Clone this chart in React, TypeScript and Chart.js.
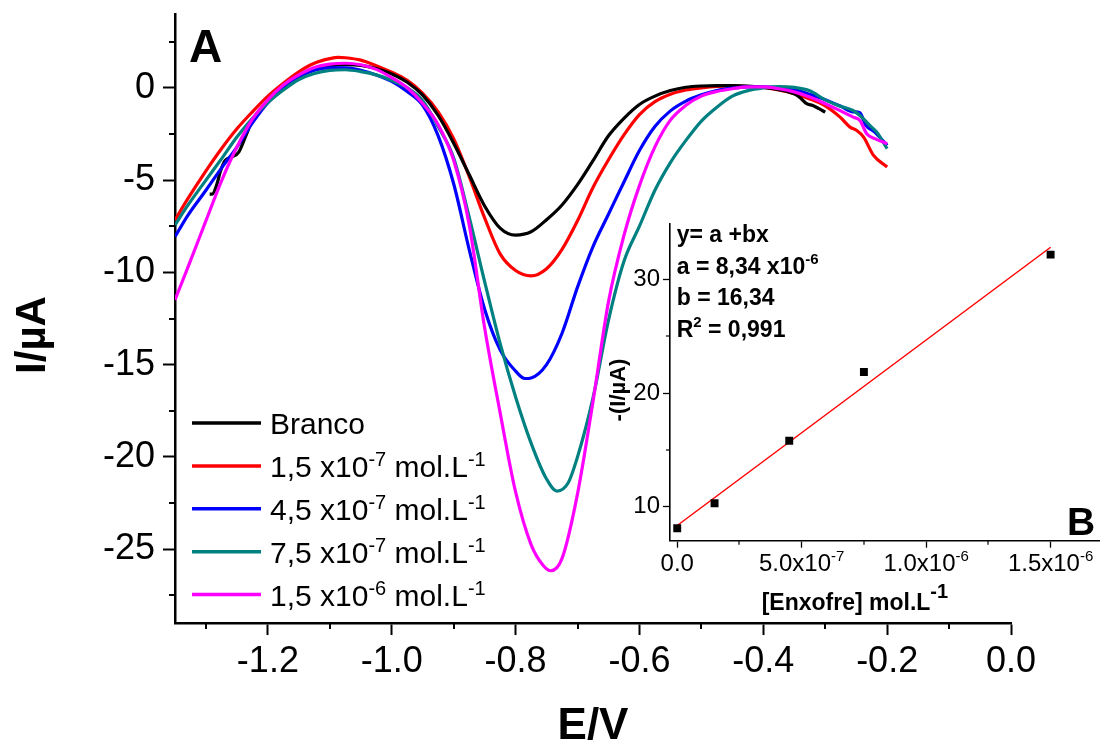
import React, { useEffect, useRef } from "react";
import { Chart, registerables } from "chart.js";
Chart.register(...registerables);

const FONT = '"Liberation Sans", Arial, sans-serif';

// ---------- Panel A : voltammograms ----------
const SERIES_COLORS = ["#000000", "#ff0000", "#0000ff", "#008080", "#ff00ff"];
const BRANCO_LABEL = "Branco";
const LEGEND_MANTISSA = ["", "1,5", "4,5", "7,5", "1,5"];
const LEGEND_EXP = ["", "-7", "-7", "-7", "-6"];
const LEGEND_UNIT = " mol.L";
const LEGEND_UNIT_EXP = "-1";

const E_BRANCO = [-1.294, -1.29, -1.282, -1.277, -1.269, -1.258, -1.247, -1.235, -1.225, -1.2, -1.175, -1.15, -1.125, -1.1, -1.075, -1.05, -1.025, -1.0, -0.975, -0.95, -0.925, -0.9, -0.875, -0.85, -0.825, -0.8, -0.775, -0.75, -0.725, -0.7, -0.675, -0.65, -0.625, -0.6, -0.575, -0.55, -0.525, -0.5, -0.475, -0.45, -0.425, -0.4, -0.375, -0.35, -0.34, -0.33, -0.32, -0.31, -0.3];
const I_BRANCO = [-5.76, -5.76, -5.19, -4.56, -3.93, -3.75, -3.48, -2.55, -1.75, -0.75, 0.0, 0.6, 0.98, 1.17, 1.25, 1.22, 1.05, 0.75, 0.3, -0.4, -1.5, -3.0, -4.7, -6.4, -7.6, -7.98, -7.8, -7.15, -6.35, -5.25, -3.95, -2.6, -1.65, -0.9, -0.45, -0.15, 0.03, 0.1, 0.12, 0.12, 0.1, 0.02, -0.1, -0.33, -0.55, -0.86, -0.96, -1.13, -1.32];

const E_C1 = [-1.35, -1.33, -1.3, -1.275, -1.25, -1.225, -1.2, -1.175, -1.15, -1.125, -1.1, -1.086, -1.075, -1.05, -1.025, -1.0, -0.975, -0.95, -0.925, -0.9, -0.875, -0.85, -0.825, -0.8, -0.775, -0.75, -0.725, -0.7, -0.675, -0.65, -0.625, -0.6, -0.575, -0.55, -0.525, -0.5, -0.475, -0.45, -0.425, -0.4, -0.375, -0.35, -0.325, -0.3, -0.276, -0.26, -0.249, -0.238, -0.222, -0.2];
const I_C1 = [-7.17, -6.05, -4.5, -3.3, -2.22, -1.3, -0.45, 0.25, 0.87, 1.33, 1.58, 1.65, 1.63, 1.5, 1.2, 0.85, 0.4, -0.3, -1.3, -2.75, -4.8, -7.05, -9.0, -9.9, -10.19, -9.8, -8.75, -7.2, -5.4, -3.9, -2.55, -1.45, -0.75, -0.35, -0.12, 0.0, 0.08, 0.1, 0.07, 0.02, -0.12, -0.32, -0.6, -0.98, -1.59, -2.13, -2.31, -2.67, -3.66, -4.29];

const E_C2 = [-1.35, -1.33, -1.3, -1.275, -1.25, -1.225, -1.2, -1.175, -1.15, -1.125, -1.1, -1.075, -1.05, -1.025, -1.0, -0.975, -0.95, -0.925, -0.9, -0.875, -0.85, -0.825, -0.8, -0.785, -0.775, -0.75, -0.725, -0.7, -0.675, -0.65, -0.625, -0.6, -0.575, -0.55, -0.525, -0.5, -0.475, -0.45, -0.425, -0.4, -0.375, -0.35, -0.325, -0.3, -0.275, -0.255, -0.244, -0.235, -0.22, -0.2];
const I_C2 = [-8.07, -6.95, -5.55, -4.35, -3.21, -1.9, -0.8, -0.05, 0.6, 0.95, 1.08, 1.08, 0.95, 0.7, 0.35, -0.2, -0.95, -2.6, -5.2, -8.75, -12.0, -14.2, -15.35, -15.75, -15.72, -15.0, -13.3, -10.8, -8.6, -6.85, -5.1, -3.4, -2.1, -1.25, -0.72, -0.38, -0.15, -0.02, 0.05, 0.05, 0.0, -0.1, -0.35, -0.65, -1.0, -1.3, -1.35, -2.0, -2.4, -3.12];

const E_C3 = [-1.35, -1.33, -1.3, -1.275, -1.25, -1.225, -1.2, -1.175, -1.15, -1.125, -1.1, -1.075, -1.05, -1.025, -1.0, -0.975, -0.95, -0.925, -0.9, -0.875, -0.85, -0.825, -0.8, -0.775, -0.75, -0.733, -0.715, -0.7, -0.675, -0.65, -0.625, -0.6, -0.575, -0.55, -0.525, -0.5, -0.475, -0.45, -0.425, -0.4, -0.375, -0.35, -0.325, -0.3, -0.275, -0.255, -0.244, -0.228, -0.217, -0.2];
const I_C3 = [-7.44, -6.4, -5.0, -3.85, -2.67, -1.65, -0.8, -0.12, 0.45, 0.78, 0.95, 0.98, 0.88, 0.7, 0.4, 0.0, -0.7, -2.1, -3.8, -7.0, -10.5, -13.85, -16.75, -19.25, -21.2, -21.85, -21.4, -20.0, -16.8, -12.6, -9.4, -7.5, -5.55, -4.05, -2.85, -1.8, -1.05, -0.45, -0.15, 0.0, 0.07, 0.02, -0.16, -0.65, -1.0, -1.23, -1.5, -2.04, -2.4, -3.3];

const E_C4 = [-1.35, -1.33, -1.3, -1.275, -1.25, -1.225, -1.2, -1.175, -1.15, -1.125, -1.1, -1.075, -1.05, -1.025, -1.0, -0.975, -0.95, -0.925, -0.9, -0.875, -0.85, -0.825, -0.8, -0.775, -0.755, -0.743, -0.725, -0.7, -0.675, -0.65, -0.625, -0.6, -0.575, -0.55, -0.525, -0.5, -0.475, -0.45, -0.425, -0.4, -0.375, -0.35, -0.325, -0.3, -0.275, -0.255, -0.244, -0.233, -0.22, -0.2];
const I_C4 = [-11.49, -9.8, -7.2, -5.05, -3.21, -1.7, -0.65, 0.15, 0.7, 1.1, 1.28, 1.33, 1.25, 1.0, 0.55, 0.0, -0.85, -2.0, -3.93, -7.4, -13.0, -17.6, -21.9, -24.75, -25.9, -26.17, -25.5, -22.0, -17.0, -11.6, -8.0, -5.3, -3.2, -1.75, -0.95, -0.45, -0.2, -0.05, 0.05, 0.05, -0.05, -0.22, -0.5, -0.86, -1.25, -1.59, -1.77, -2.49, -2.75, -3.03];

const X_MAJOR = [-1.2, -1.0, -0.8, -0.6, -0.4, -0.2, 0.0];
const X_MINOR = [-1.3, -1.1, -0.9, -0.7, -0.5, -0.3, -0.1];
const Y_MAJOR = [-25, -20, -15, -10, -5, 0];
const Y_MINOR = [-27.5, -22.5, -17.5, -12.5, -7.5, -2.5, 2.5];
const X_TITLE = "E/V";
const Y_TITLE = "I/\u00b5A";
const PANEL_A = "A";

// ---------- Panel B : calibration inset ----------
const CONC = [0, 1.5e-7, 4.5e-7, 7.5e-7, 1.5e-6];
const PEAK = [8.09, 10.3, 15.8, 21.86, 32.2];
const FIT_X = [0, 1.5e-6];
const FIT_Y = [8.34, 32.85];
const B_X_MAJOR = [0, 5e-7, 1e-6, 1.5e-6];
const B_X_MANT = ["0.0", "5.0", "1.0", "1.5"];
const B_X_EXP = ["", "-7", "-6", "-6"];
const B_X_MINOR = [2.5e-7, 7.5e-7, 1.25e-6];
const B_Y_MAJOR = [10, 20, 30];
const B_Y_MINOR = [15, 25];
const B_X_TITLE = "[Enxofre] mol.L";
const B_X_TITLE_EXP = "-1";
const B_Y_TITLE = "-(I/\u00b5A)";
const FIT_TEXT = ["y= a +bx", "a = 8,34 x10", "b = 16,34", "R", " = 0,991"];
const FIT_TEXT_EXP = ["-6", "2"];
const PANEL_B = "B";

type Part = { t: string; sup?: boolean };

function drawRich(
  ctx: CanvasRenderingContext2D,
  parts: Part[],
  x: number,
  y: number,
  mainFont: string,
  supFont: string,
  raise: number,
  align: "left" | "center"
) {
  const widths = parts.map((p) => {
    ctx.font = p.sup ? supFont : mainFont;
    return ctx.measureText(p.t).width;
  });
  const total = widths.reduce((a, b) => a + b, 0);
  let cx = align === "center" ? x - total / 2 : x;
  ctx.textAlign = "left";
  ctx.textBaseline = "alphabetic";
  parts.forEach((p, i) => {
    ctx.font = p.sup ? supFont : mainFont;
    ctx.fillText(p.t, cx, p.sup ? y - raise : y);
    cx += widths[i];
  });
}

const mainDecor = {
  id: "mainDecor",
  afterDraw(chart: any) {
    const { ctx, chartArea } = chart;
    const xs = chart.scales.x;
    const ys = chart.scales.y;
    ctx.save();
    ctx.strokeStyle = "#000";
    ctx.lineWidth = 2;
    X_MINOR.forEach((v) => {
      const px = Math.round(xs.getPixelForValue(v));
      ctx.beginPath();
      ctx.moveTo(px, chartArea.bottom);
      ctx.lineTo(px, chartArea.bottom + 6);
      ctx.stroke();
    });
    Y_MINOR.forEach((v) => {
      const py = Math.round(ys.getPixelForValue(v));
      ctx.beginPath();
      ctx.moveTo(chartArea.left, py);
      ctx.lineTo(chartArea.left - 6, py);
      ctx.stroke();
    });
    ctx.fillStyle = "#000";
    ctx.font = `bold 44px ${FONT}`;
    ctx.textAlign = "center";
    ctx.textBaseline = "alphabetic";
    ctx.fillText(X_TITLE, (chartArea.left + chartArea.right) / 2, 739);
    ctx.save();
    ctx.translate(45, 335);
    ctx.rotate(-Math.PI / 2);
    ctx.font = `bold 42px ${FONT}`;
    ctx.textAlign = "center";
    ctx.fillText(Y_TITLE, 0, 0);
    ctx.restore();
    ctx.font = `bold 46px ${FONT}`;
    ctx.textAlign = "left";
    ctx.fillText(PANEL_A, 189, 62);
    SERIES_COLORS.forEach((c, i) => {
      const yc = 423 + i * 42.9;
      ctx.strokeStyle = c;
      ctx.lineWidth = 3.5;
      ctx.beginPath();
      ctx.moveTo(192, yc);
      ctx.lineTo(261, yc);
      ctx.stroke();
      ctx.fillStyle = "#000";
      const parts: Part[] =
        i === 0
          ? [{ t: BRANCO_LABEL }]
          : [
              { t: LEGEND_MANTISSA[i] + " x10" },
              { t: LEGEND_EXP[i], sup: true },
              { t: LEGEND_UNIT },
              { t: LEGEND_UNIT_EXP, sup: true },
            ];
      drawRich(ctx, parts, 270, yc + 11, `30px ${FONT}`, `20px ${FONT}`, 11, "left");
    });
    ctx.restore();
  },
};

const OX = 600;
const OY = 200;

const insetDecor = {
  id: "insetDecor",
  afterDraw(chart: any) {
    const { ctx, chartArea } = chart;
    const xs = chart.scales.x;
    const ys = chart.scales.y;
    ctx.save();
    ctx.strokeStyle = "#000";
    ctx.lineWidth = 1.2;
    B_X_MINOR.forEach((v) => {
      const px = Math.round(xs.getPixelForValue(v));
      ctx.beginPath();
      ctx.moveTo(px, chartArea.bottom);
      ctx.lineTo(px, chartArea.bottom + 4);
      ctx.stroke();
    });
    B_Y_MINOR.forEach((v) => {
      const py = Math.round(ys.getPixelForValue(v));
      ctx.beginPath();
      ctx.moveTo(chartArea.left, py);
      ctx.lineTo(chartArea.left - 4, py);
      ctx.stroke();
    });
    ctx.fillStyle = "#000";
    B_X_MAJOR.forEach((v, i) => {
      const px = xs.getPixelForValue(v);
      const parts: Part[] = B_X_EXP[i]
        ? [{ t: B_X_MANT[i] + "x10" }, { t: B_X_EXP[i], sup: true }]
        : [{ t: B_X_MANT[i] }];
      drawRich(ctx, parts, px, 571 - OY, `24px ${FONT}`, `15px ${FONT}`, 10, "center");
    });
    drawRich(
      ctx,
      [{ t: B_X_TITLE }, { t: B_X_TITLE_EXP, sup: true }],
      761.7 - OX,
      610 - OY,
      `bold 23px ${FONT}`,
      `bold 20px ${FONT}`,
      12,
      "left"
    );
    ctx.save();
    ctx.translate(625 - OX, 390 - OY);
    ctx.rotate(-Math.PI / 2);
    ctx.font = `bold 22px ${FONT}`;
    ctx.textAlign = "center";
    ctx.textBaseline = "alphabetic";
    ctx.fillText(B_Y_TITLE, 0, 0);
    ctx.restore();
    const tx = 676.7 - OX;
    const mf = `bold 23px ${FONT}`;
    const sf = `bold 15px ${FONT}`;
    drawRich(ctx, [{ t: FIT_TEXT[0] }], tx, 242 - OY, mf, sf, 10, "left");
    drawRich(ctx, [{ t: FIT_TEXT[1] }, { t: FIT_TEXT_EXP[0], sup: true }], tx, 274 - OY, mf, sf, 10, "left");
    drawRich(ctx, [{ t: FIT_TEXT[2] }], tx, 305 - OY, mf, sf, 10, "left");
    drawRich(
      ctx,
      [{ t: FIT_TEXT[3] }, { t: FIT_TEXT_EXP[1], sup: true }, { t: FIT_TEXT[4] }],
      tx,
      337 - OY,
      mf,
      sf,
      10,
      "left"
    );
    ctx.font = `bold 39px ${FONT}`;
    ctx.textAlign = "left";
    ctx.fillText(PANEL_B, 1067 - OX, 535 - OY);
    ctx.restore();
  },
};

function toXY(xs: number[], ys: number[]) {
  return xs.map((x, i) => ({ x, y: ys[i] }));
}

export default function App() {
  const mainRef = useRef<HTMLCanvasElement>(null);
  const insetRef = useRef<HTMLCanvasElement>(null);

  useEffect(() => {
    Chart.defaults.font.family = FONT;
    Chart.defaults.color = "#000";
    const seriesE = [E_BRANCO, E_C1, E_C2, E_C3, E_C4];
    const seriesI = [I_BRANCO, I_C1, I_C2, I_C3, I_C4];
    const drawOrder = [3, 4, 2, 1, 0];
    const main = new Chart(mainRef.current as HTMLCanvasElement, {
      type: "line",
      data: {
        datasets: seriesE.map((e, i) => ({
          label: i === 0 ? BRANCO_LABEL : LEGEND_MANTISSA[i],
          data: toXY(e, seriesI[i]),
          borderColor: SERIES_COLORS[i],
          backgroundColor: SERIES_COLORS[i],
          borderWidth: 3.2,
          pointRadius: 0,
          fill: false,
          cubicInterpolationMode: "monotone",
          order: drawOrder[i],
        })),
      },
      options: {
        responsive: false,
        animation: false,
        devicePixelRatio: 1,
        events: [],
        layout: { padding: { left: 0, top: 14, right: 94, bottom: 0 } },
        plugins: { legend: { display: false }, tooltip: { enabled: false } },
        scales: {
          x: {
            type: "linear",
            min: -1.35,
            max: 0,
            afterBuildTicks: (s: any) => {
              s.ticks = X_MAJOR.map((v) => ({ value: v }));
            },
            afterFit: (s: any) => {
              s.height = 119;
              s.paddingLeft = 0;
              s.paddingRight = 0;
            },
            ticks: {
              font: { size: 36, family: FONT },
              color: "#000",
              padding: 5,
              maxRotation: 0,
              autoSkip: false,
              callback: (v: any) => Number(v).toFixed(1),
            },
            grid: { display: true, drawOnChartArea: false, drawTicks: true, tickLength: 12, tickWidth: 2, tickColor: "#000" },
            border: { display: true, color: "#000", width: 2.5 },
          },
          y: {
            type: "linear",
            min: -29,
            max: 4,
            afterBuildTicks: (s: any) => {
              s.ticks = Y_MAJOR.map((v) => ({ value: v }));
            },
            afterFit: (s: any) => {
              s.width = 175;
              s.paddingTop = 0;
              s.paddingBottom = 0;
            },
            ticks: {
              font: { size: 36, family: FONT },
              color: "#000",
              padding: 8,
              autoSkip: false,
              callback: (v: any) => String(v),
            },
            grid: { display: true, drawOnChartArea: false, drawTicks: true, tickLength: 12, tickWidth: 2, tickColor: "#000" },
            border: { display: true, color: "#000", width: 2.5 },
          },
        },
      },
      plugins: [mainDecor],
    } as any);

    const inset = new Chart(insetRef.current as HTMLCanvasElement, {
      type: "scatter",
      data: {
        datasets: [
          {
            label: "fit",
            data: toXY(FIT_X, FIT_Y),
            showLine: true,
            borderColor: "#ff0000",
            borderWidth: 1.5,
            pointRadius: 0,
            order: 2,
          },
          {
            label: "peak",
            data: toXY(CONC, PEAK),
            showLine: false,
            pointStyle: "rect",
            pointRadius: 5.6,
            backgroundColor: "#000",
            borderWidth: 0,
            order: 1,
          },
        ],
      },
      options: {
        responsive: false,
        animation: false,
        devicePixelRatio: 1,
        events: [],
        layout: { padding: { left: 0, top: 24, right: 3.3, bottom: 0 } },
        plugins: { legend: { display: false }, tooltip: { enabled: false } },
        scales: {
          x: {
            type: "linear",
            min: -2.9e-8,
            max: 1.696e-6,
            afterBuildTicks: (s: any) => {
              s.ticks = B_X_MAJOR.map((v) => ({ value: v }));
            },
            afterFit: (s: any) => {
              s.height = 94.3;
              s.paddingLeft = 0;
              s.paddingRight = 0;
            },
            ticks: { display: false },
            grid: { display: true, drawOnChartArea: false, drawTicks: true, tickLength: 7, tickWidth: 1.3, tickColor: "#000" },
            border: { display: true, color: "#000", width: 1.6 },
          },
          y: {
            type: "linear",
            min: 7,
            max: 34.9,
            afterBuildTicks: (s: any) => {
              s.ticks = B_Y_MAJOR.map((v) => ({ value: v }));
            },
            afterFit: (s: any) => {
              s.width = 70;
              s.paddingTop = 0;
              s.paddingBottom = 0;
            },
            ticks: {
              font: { size: 24, family: FONT },
              color: "#000",
              padding: 3,
              autoSkip: false,
              callback: (v: any) => String(v),
            },
            grid: { display: true, drawOnChartArea: false, drawTicks: true, tickLength: 7, tickWidth: 1.3, tickColor: "#000" },
            border: { display: true, color: "#000", width: 1.6 },
          },
        },
      },
      plugins: [insetDecor],
    } as any);

    return () => {
      main.destroy();
      inset.destroy();
    };
  }, []);

  return (
    <div style={{ position: "absolute", left: 0, top: 0, width: 1105, height: 742, background: "#fff" }}>
      <canvas
        ref={mainRef}
        width={1105}
        height={742}
        style={{ position: "absolute", left: 0, top: 0, width: 1105, height: 742 }}
      />
      <canvas
        ref={insetRef}
        width={505}
        height={435}
        style={{ position: "absolute", left: 600, top: 200, width: 505, height: 435 }}
      />
    </div>
  );
}
